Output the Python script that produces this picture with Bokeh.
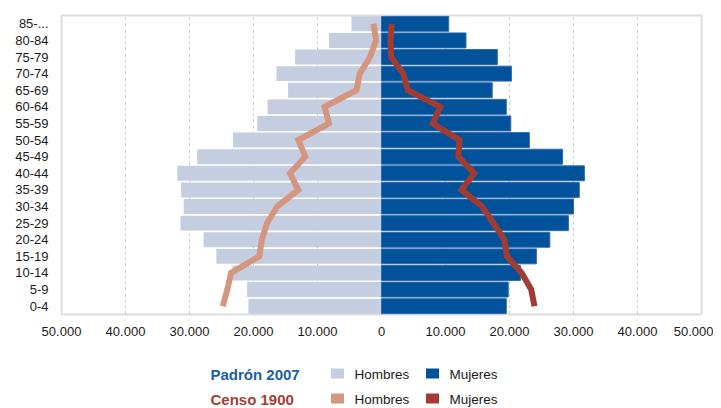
from bokeh.plotting import figure
from bokeh.models import ColumnDataSource, FixedTicker, Range1d
from bokeh.layouts import column
from bokeh.core.properties import value
from bokeh.embed import file_html
from bokeh.resources import INLINE

# ---- data ----
categories = ["0-4", "5-9", "10-14", "15-19", "20-24", "25-29", "30-34", "35-39",
              "40-44", "45-49", "50-54", "55-59", "60-64", "65-69", "70-74",
              "75-79", "80-84", "85-..."]
hombres_2007 = [20800, 21000, 23300, 25800, 27800, 31400, 30900, 31300, 31900,
                28800, 23200, 19400, 17800, 14600, 16400, 13500, 8200, 4700]
mujeres_2007 = [19500, 19800, 21700, 24200, 26300, 29200, 30000, 30900, 31700,
                28300, 23100, 20200, 19500, 17300, 20300, 18100, 13200, 10500]
hombres_1900 = [24800, 24100, 23500, 19100, 18700, 17900, 16300, 13000, 14300,
                11900, 13000, 8200, 8900, 3900, 3400, 1800, 850, 1250]
mujeres_1900 = [23900, 23400, 21900, 19600, 19200, 17500, 15700, 12500, 14500,
                12000, 12200, 8000, 9200, 4100, 3400, 1500, 1400, 1600]
tick_values = [-50000, -40000, -30000, -20000, -10000, 0, 10000, 20000, 30000, 40000, 50000]
tick_labels = ["50.000", "40.000", "30.000", "20.000", "10.000", "0",
               "10.000", "20.000", "30.000", "40.000", "50.000"]

C_H07 = "#c5cde0"
C_M07 = "#00529b"
C_H00 = "#d4967e"
C_M00 = "#a23c32"
FONT = "Liberation Sans"

src = ColumnDataSource(dict(
    cat=categories,
    h07=[-v for v in hombres_2007],
    m07=mujeres_2007,
    h00=[-v for v in hombres_1900],
    m00=mujeres_1900,
))

p = figure(width=713, height=345, y_range=categories, x_range=Range1d(-50000, 50000),
           output_backend="svg", toolbar_location=None,
           min_border_left=61, min_border_right=12, min_border_top=15, min_border_bottom=31)

p.hbar(y="cat", left="h07", right=0, height=0.9, source=src,
       fill_color=C_H07, line_color=None)
p.hbar(y="cat", left=0, right="m07", height=0.9, source=src,
       fill_color=C_M07, line_color="#2f6aae", line_width=1)
p.line(x="h00", y="cat", source=src, line_color=C_H00, line_width=6, line_join="miter")
p.line(x="m00", y="cat", source=src, line_color=C_M00, line_width=6, line_join="miter")

p.xaxis.ticker = FixedTicker(ticks=tick_values)
p.xaxis.major_label_overrides = dict(zip(tick_values, tick_labels))
for ax in (p.xaxis, p.yaxis):
    ax.axis_line_color = None
    ax.major_tick_line_color = None
    ax.minor_tick_line_color = None
    ax.major_tick_out = 0
    ax.major_label_text_font = FONT
    ax.major_label_text_font_size = "13px"
    ax.major_label_text_color = "#1a1a1a"
p.xaxis.major_label_standoff = 12
p.yaxis.major_label_standoff = 13

p.xgrid.grid_line_color = "#cccccc"
p.xgrid.grid_line_dash = "3 3"
p.xgrid.grid_line_width = 1
p.ygrid.grid_line_color = None
p.outline_line_color = "#dddddd"
p.outline_line_width = 2

# ---- legend panel (its frame is aligned with the main frame: x 61..701 on the page) ----
LG_H = 62
lg = figure(width=713, height=LG_H, x_range=Range1d(61, 701), y_range=Range1d(0, LG_H),
            output_backend="svg", toolbar_location=None,
            x_axis_location=None, y_axis_location=None,
            min_border_left=61, min_border_right=12, min_border_top=0, min_border_bottom=0)
lg.grid.visible = False
lg.outline_line_color = None

row_y = [LG_H - 29, LG_H - 54]
lg.text(x=[210, 210], y=row_y, text=["Padrón 2007", "Censo 1900"],
        text_color=["#1c5fa8", "#a53f35"], text_font=value(FONT),
        text_font_size="15px", text_font_style="bold", text_baseline="middle")
lg.rect(x=[337, 432, 337, 432], y=[row_y[0] + 1, row_y[0] + 1, row_y[1] + 1, row_y[1] + 1],
        width=13, height=10, fill_color=[C_H07, C_M07, C_H00, C_M00], line_color=None)
lg.text(x=[354, 449, 354, 449], y=[row_y[0], row_y[0], row_y[1], row_y[1]],
        text=["Hombres", "Mujeres", "Hombres", "Mujeres"],
        text_color="#1a1a1a", text_font=value(FONT), text_font_size="13.5px",
        text_baseline="middle")

layout = column(p, lg, spacing=0)
open("out.html", "w").write(file_html(layout, INLINE))
